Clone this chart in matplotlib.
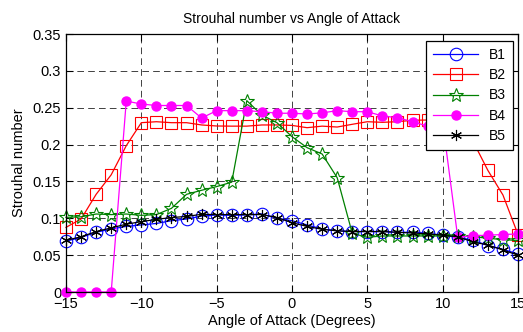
import numpy as np
import matplotlib
matplotlib.use("Agg")
import matplotlib.pyplot as plt

plt.rcParams['font.family'] = ['Liberation Sans', 'DejaVu Sans']

# angle of attack (degrees)
angle = np.arange(-15, 16)

b1 = [0.069, 0.074, 0.081, 0.0855, 0.089, 0.091, 0.093, 0.0967, 0.099, 0.103,
      0.1045, 0.104, 0.1045, 0.106, 0.100, 0.0967, 0.091, 0.0855, 0.083, 0.082,
      0.082, 0.082, 0.081, 0.081, 0.0796, 0.077, 0.074, 0.0705, 0.063, 0.058, 0.0515]
b2 = [0.0877, 0.099, 0.1325, 0.159, 0.1985, 0.2297, 0.231, 0.2297, 0.2297, 0.2266,
      0.2252, 0.225, 0.225, 0.2266, 0.2266, 0.226, 0.2229, 0.225, 0.2238, 0.2275,
      0.231, 0.2302, 0.231, 0.233, 0.2333, 0.232, 0.23, 0.205, 0.165, 0.1316, 0.078]
b3 = [0.1013, 0.102, 0.1058, 0.105, 0.1058, 0.104, 0.105, 0.1135, 0.1325, 0.138,
      0.143, 0.149, 0.2596, 0.240, 0.2297, 0.2107, 0.1958, 0.1872, 0.155, 0.0796,
      0.0742, 0.076, 0.076, 0.076, 0.076, 0.076, 0.076, 0.075, 0.073, 0.071, 0.070]
b4 = [0, 0, 0, 0, 0.259, 0.255, 0.253, 0.253, 0.253, 0.236,
      0.246, 0.246, 0.246, 0.2446, 0.2425, 0.2425, 0.2415, 0.243, 0.246, 0.2446,
      0.2446, 0.2388, 0.2365, 0.231, 0.225, 0.23, 0.0742, 0.0764, 0.077, 0.078, 0.0787]
b5 = [0.070, 0.075, 0.082, 0.087, 0.092, 0.0954, 0.0986, 0.101, 0.1025, 0.1054,
      0.105, 0.105, 0.105, 0.105, 0.101, 0.094, 0.089, 0.085, 0.083, 0.082,
      0.082, 0.082, 0.081, 0.080, 0.079, 0.077, 0.075, 0.068, 0.0637, 0.057, 0.050]

xticks = [-15, -10, -5, 0, 5, 10, 15]
yticks = [0, 0.05, 0.1, 0.15, 0.2, 0.25, 0.3, 0.35]
ytick_labels = ['0', '0.05', '0.1', '0.15', '0.2', '0.25', '0.3', '0.35']

fig = plt.figure(figsize=(5.23, 3.32), dpi=100)
ax = fig.add_axes([66 / 523, 1 - 292 / 332, 452 / 523, 258 / 332])

lw = 0.9
ax.plot(angle, b1, '-o', color='#0000ff', lw=lw, ms=9, mfc='none', mew=0.8,
        label='B1', clip_on=False)
ax.plot(angle, b2, '-s', color='#ff0000', lw=lw, ms=9, mfc='none', mew=0.8,
        label='B2', clip_on=False)
ax.plot(angle, b3, '-*', color='#008000', lw=lw, ms=10.5, mfc='none', mew=0.8,
        label='B3', clip_on=False)
ax.plot(angle, b4, '-o', color='#ff00ff', lw=lw, ms=6.5, mfc='#ff00ff',
        label='B4', clip_on=False)
ax.plot(angle, b5, '-', marker=(6, 2, 0), color='black', lw=lw, ms=8, mew=0.8,
        label='B5', clip_on=False)

ax.set_xlim(-15, 15)
ax.set_ylim(0, 0.35)
ax.set_xticks(xticks)
ax.set_yticks(yticks)
ax.set_yticklabels(ytick_labels)
ax.tick_params(direction='in', top=True, right=True, length=5, labelsize=10.5,
               width=0.8)
ax.grid(True, color='#222222', linestyle=(0, (8, 5)), linewidth=0.6)
for s in ax.spines.values():
    s.set_linewidth(0.9)

ax.set_title('Strouhal number vs Angle of Attack', fontsize=10, pad=8)
ax.set_xlabel('Angle of Attack (Degrees)', fontsize=10.5, labelpad=2)
ax.set_ylabel('Strouhal number', fontsize=10.5, labelpad=5)

leg = ax.legend(loc='upper right', bbox_to_anchor=(0.989, 0.973),
                borderaxespad=0, numpoints=1, fontsize=10, handlelength=3.2,
                fancybox=False, framealpha=1, edgecolor='black',
                labelspacing=0.45, borderpad=0.5)
leg.get_frame().set_linewidth(0.9)

fig.savefig('out.png', dpi=100)
